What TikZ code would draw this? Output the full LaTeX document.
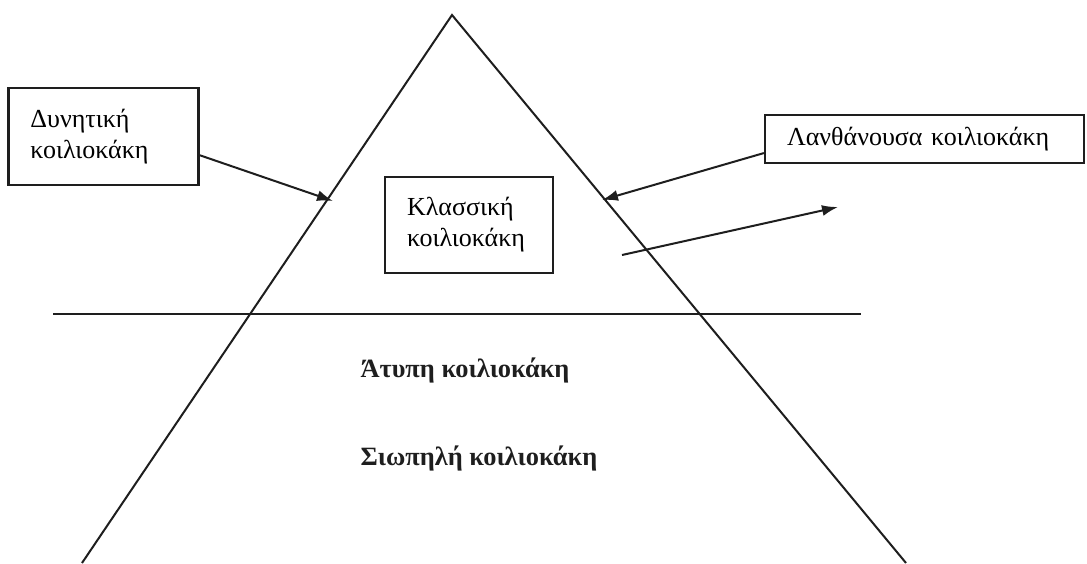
\documentclass[tikz,border=0pt]{standalone}
\usepackage{fontspec}
\setmainfont{Liberation Serif}
\usetikzlibrary{arrows.meta}
\definecolor{inkblack}{RGB}{30,30,30}

\tikzset{
    labelbox/.style={draw=inkblack, line width=1.1pt, align=left, font=\fontsize{13}{15.5}\selectfont,
        inner xsep=11pt, anchor=center},
    pointer/.style={draw=inkblack, line width=1pt, -{Latex[length=8pt,width=5.5pt]}},
    levelword/.style={font=\bfseries\fontsize{13.2}{15}\selectfont, inkblack}
}

\begin{document}
\begin{tikzpicture}[x=0.5pt, y=-0.5pt]
    \useasboundingbox (0,0) rectangle (1087,563);

    % Iceberg outline and water line
    \draw[inkblack, line width=1pt] (82,563) -- (452,15) -- (906,563);
    \draw[inkblack, line width=1.3pt] (53,314) -- (861,314);

    % Boxed forms
    \node[labelbox, text width=73pt, minimum height=48.5pt] (dyn) at (103.5,136.5) {Δυνητική\\κοιλιοκάκη};
    \node[labelbox, text width=62pt, minimum height=48pt] (klass) at (469,225) {Κλασσική\\κοιλιοκάκη};
    \node[labelbox, text width=137.5pt, minimum height=24pt] (lanth) at (924.5,139) {Λανθάνουσα κοιλιοκάκη};

    % Forms under the water line
    \node[levelword] (atyp) at (465,370) {Άτυπη κοιλιοκάκη};
    \node[levelword] (siop) at (479,458) {Σιωπηλή κοιλιοκάκη};

    % Arrow ends
    \coordinate (leftedge) at (333,201);
    \coordinate (rightedge) at (602,200);
    \coordinate (outstart) at (622,255);
    \coordinate (outend) at (838,207);

    \draw[pointer] (dyn.-11) -- (leftedge);
    \draw[pointer] (lanth.185) -- (rightedge);
    \draw[pointer] (outstart) -- (outend);
\end{tikzpicture}
\end{document}
